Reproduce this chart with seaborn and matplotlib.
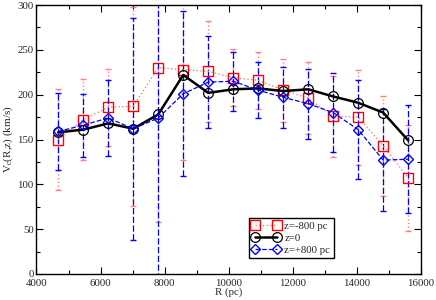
import numpy as np
import seaborn as sns
import matplotlib
matplotlib.use("Agg")
import matplotlib.pyplot as plt
from matplotlib.ticker import MultipleLocator

# rotation curve at three heights
R = [4680, 5460, 6240, 7020, 7800, 8580, 9360, 10140, 10920, 11700, 12480, 13260, 14040, 14820, 15600]
v_neg = [150, 172, 186, 187, 230, 228, 226, 219, 216, 205, 196, 176, 175, 143, 107]
err_neg = [56, 45, 43, 111, 172, 101, 56, 32, 32, 35, 40, 45, 53, 56, 59]
v_zero = [158, 161, 168, 162, 178, 222, 202, 206, 207, 204, 206, 198, 191, 180, 149]
v_pos = [159, 166, 174, 162, 174, 201, 214, 215, 205, 197, 190, 180, 161, 127, 128]
err_pos = [43, 35, 42, 124, 180, 92, 51, 33, 31, 34, 39, 44, 55, 57, 60]
labels = ["z=-800 pc", "z=0", "z=+800 pc"]

sns.set_style("ticks")
plt.rcParams['font.family'] = ['Liberation Serif', 'DejaVu Serif']
plt.rcParams['mathtext.fontset'] = 'custom'
plt.rcParams['mathtext.rm'] = 'Liberation Serif'

fig = plt.figure(figsize=(4.36, 3.0), dpi=100)
ax = fig.add_axes([0.0837, 0.0867, 0.8819, 0.8966])

red = '#ff0000'
pink = '#ff8080'
blue = '#0000ff'

# error bars
eb = ax.errorbar(R, v_neg, yerr=err_neg, fmt='none', ecolor=pink, elinewidth=1,
                 capsize=2.5, capthick=1)
eb[2][0].set_linestyle(':')
eb = ax.errorbar(R, v_pos, yerr=err_pos, fmt='none', ecolor=blue, elinewidth=0.9,
                 capsize=2.5, capthick=1)
eb[2][0].set_linestyle((0, (5, 2)))

# lines + markers
sns.lineplot(x=R, y=v_neg, ax=ax, sort=False, errorbar=None, color=pink, linestyle=':',
             linewidth=1, marker='s', markersize=6.5, markerfacecolor='none',
             markeredgecolor=red, markeredgewidth=1, label=labels[0])
sns.lineplot(x=R, y=v_zero, ax=ax, sort=False, errorbar=None, color='black', linestyle='-',
             linewidth=1.8, marker='o', markersize=7, markerfacecolor='none',
             markeredgecolor='black', markeredgewidth=0.9, label=labels[1])
sns.lineplot(x=R, y=v_pos, ax=ax, sort=False, errorbar=None, color=blue, linestyle='--',
             linewidth=0.9, dashes=(4, 2), marker='D', markersize=5.5, markerfacecolor='none',
             markeredgecolor=blue, markeredgewidth=1, label=labels[2])

ax.set_xlim(4000, 16000)
ax.set_ylim(0, 300)
ax.xaxis.set_major_locator(MultipleLocator(2000))
ax.xaxis.set_minor_locator(MultipleLocator(1000))
ax.yaxis.set_major_locator(MultipleLocator(50))
ax.yaxis.set_minor_locator(MultipleLocator(25))
ax.tick_params(which='both', direction='in', top=True, right=True, labelsize=7.8, pad=2,
               width=0.8, color='black')
ax.tick_params(axis='x', which='major', pad=3.5)
ax.tick_params(which='major', length=5)
ax.tick_params(which='minor', length=3)
for s in ax.spines.values():
    s.set_linewidth(1)
    s.set_color('black')

ax.set_xlabel("R (pc)", fontsize=7.8, labelpad=0)
ax.set_ylabel("V$_\\mathrm{c}$(R,z) (km/s)", fontsize=8, labelpad=2)

leg = ax.legend(loc='lower left', bbox_to_anchor=(0.552, 0.058), numpoints=2, fontsize=7.8,
                frameon=True, fancybox=False, edgecolor='black', framealpha=1,
                handlelength=2.6, handletextpad=0.4, borderpad=0.3, labelspacing=0.25,
                borderaxespad=0)
leg.get_frame().set_linewidth(1)

fig.savefig("out.png", dpi=100)
